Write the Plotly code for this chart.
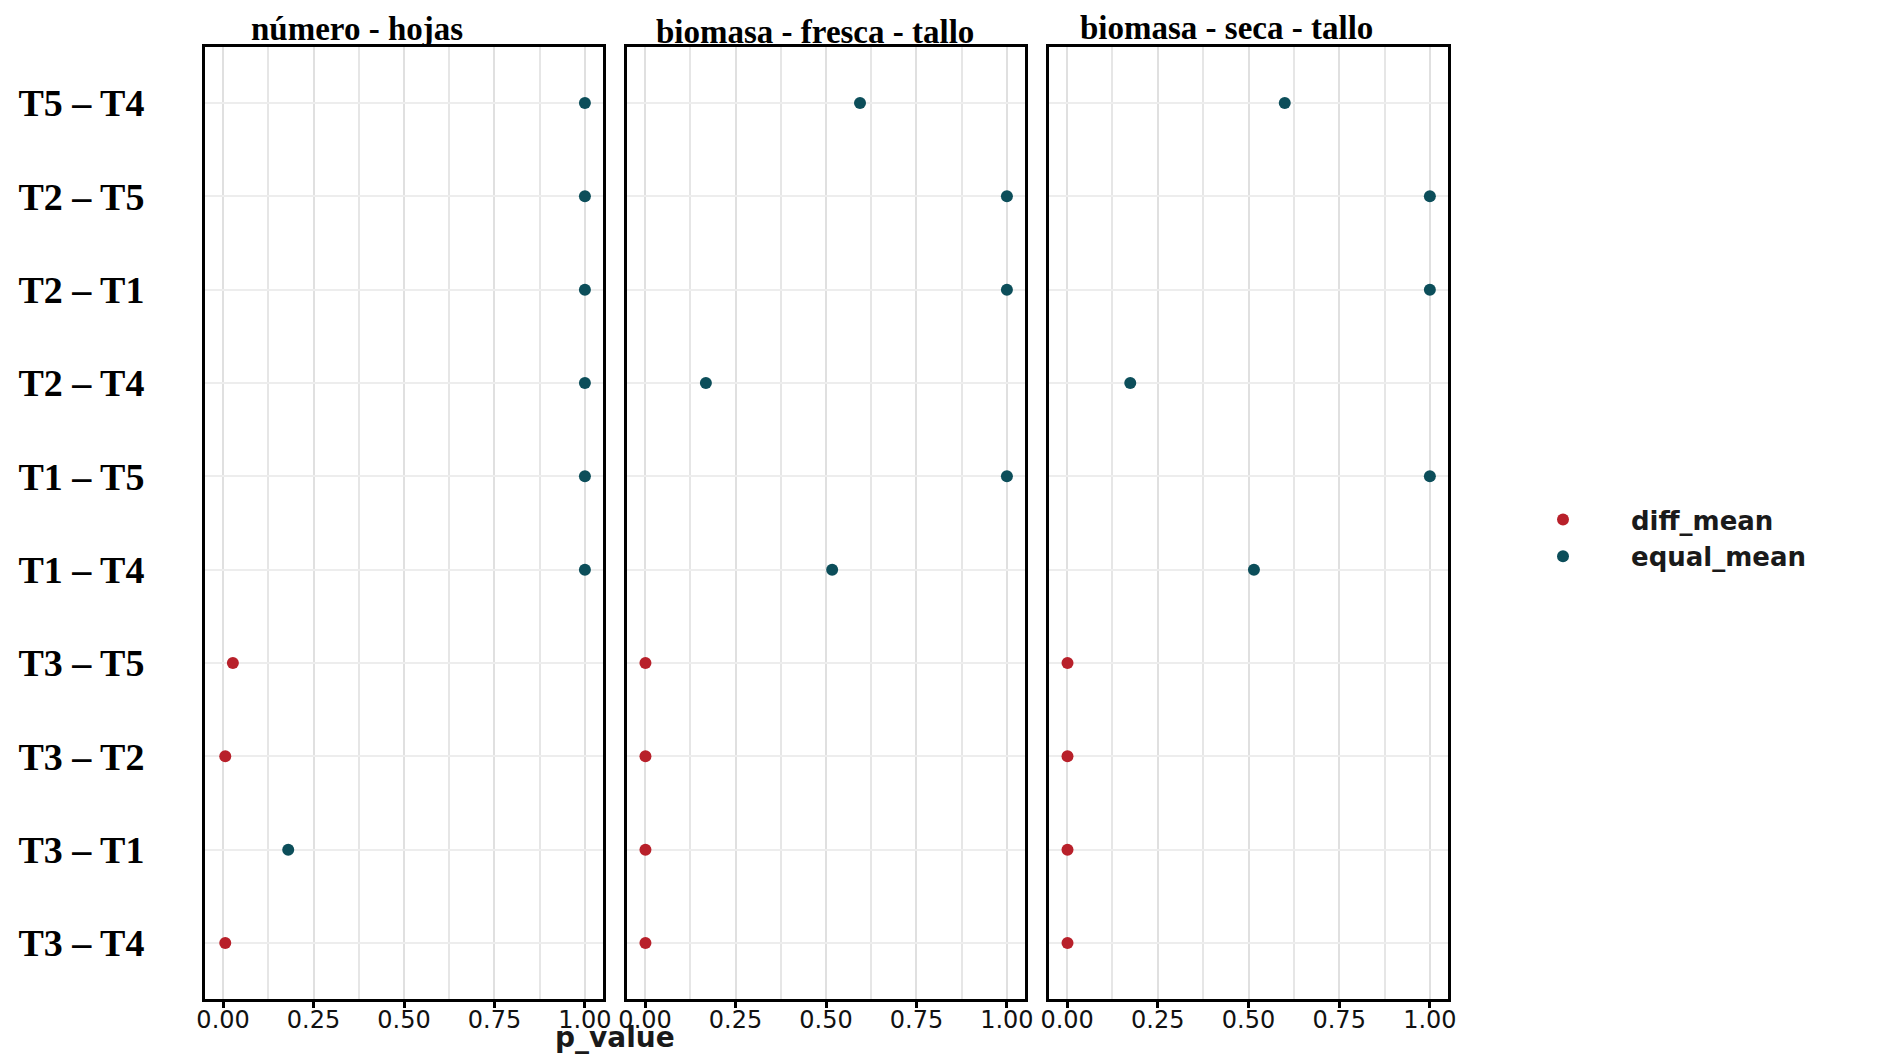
import plotly.graph_objects as go

# comparisons, top to bottom
comparisons = ["T5 – T4", "T2 – T5", "T2 – T1", "T2 – T4", "T1 – T5",
               "T1 – T4", "T3 – T5", "T3 – T2", "T3 – T1", "T3 – T4"]

panels = ["número - hojas", "biomasa - fresca - tallo", "biomasa - seca - tallo"]

p_hojas = [1.0, 1.0, 1.0, 1.0, 1.0, 1.0, 0.027, 0.006, 0.18, 0.006]
p_fresca = [0.594, 1.0, 1.0, 0.168, 1.0, 0.517, 0.001, 0.001, 0.001, 0.001]
p_seca = [0.600, 1.0, 1.0, 0.174, 1.0, 0.515, 0.001, 0.001, 0.001, 0.001]

group_hojas = ["equal_mean"] * 6 + ["diff_mean", "diff_mean", "equal_mean", "diff_mean"]
group_fresca = ["equal_mean"] * 6 + ["diff_mean"] * 4
group_seca = ["equal_mean"] * 6 + ["diff_mean"] * 4

tick_vals = [0, 0.25, 0.5, 0.75, 1.0]
tick_text = ["0.00", "0.25", "0.50", "0.75", "1.00"]

colors = {"diff_mean": "#B8202A", "equal_mean": "#0C4E5A"}

W, H = 1899, 1057
OFF = 7  # page body margin shifts the plot by about this much
# panel pixel extents (left, right) as seen on the page
px_dom = [(204, 602), (626, 1024), (1048, 1447)]
top_px, bot_px = 46, 998


def px(v):
    return (v - OFF) / W


def py(v):
    return 1 - (v - OFF) / H


fig = go.Figure()

series = [(p_hojas, group_hojas), (p_fresca, group_fresca), (p_seca, group_seca)]
shown = set()
for i, (vals, groups) in enumerate(series):
    ax = "" if i == 0 else str(i + 1)
    for g in ["diff_mean", "equal_mean"]:
        xs = [v for v, gg in zip(vals, groups) if gg == g]
        ys = [c for c, gg in zip(comparisons, groups) if gg == g]
        fig.add_trace(go.Scatter(
            x=xs, y=ys, mode="markers", name=g,
            marker=dict(color=colors[g], size=12, symbol="circle"),
            xaxis="x" + ax, yaxis="y" + ax,
            showlegend=g not in shown, legendgroup=g,
        ))
        shown.add(g)

tick_font = dict(family="DejaVu Sans", size=24, color="#111111")
serif_font = dict(family="Liberation Serif", size=38, color="black", weight="bold")

layout = dict(
    width=W, height=H,
    margin=dict(l=0, r=0, t=0, b=0, autoexpand=False),
    plot_bgcolor="white", paper_bgcolor="white",
    showlegend=True,
    legend=dict(x=px(1494), y=py(537), xanchor="left", yanchor="middle",
                font=dict(family="DejaVu Sans", size=26, color="#1a1a1a", weight="bold"),
                itemwidth=126, tracegroupgap=0, bgcolor="rgba(0,0,0,0)"),
)

ydom = [py(bot_px), py(top_px)]
for i, (l, r) in enumerate(px_dom):
    key = "" if i == 0 else str(i + 1)
    layout["xaxis" + key] = dict(
        domain=[px(l), px(r)], range=[-0.05, 1.05],
        tickvals=tick_vals, ticktext=tick_text, tickfont=tick_font,
        ticks="outside", ticklen=6, tickwidth=3, tickcolor="black",
        ticklabelstandoff=-9,
        showgrid=True, gridcolor="#E0E0E0", gridwidth=2,
        minor=dict(tickvals=[0.125, 0.375, 0.625, 0.875], showgrid=True,
                   gridcolor="#E6E6E6", gridwidth=2, ticks=""),
        showline=True, mirror=True, linecolor="black", linewidth=3,
        zeroline=False, anchor="y" + key, automargin=False,
    )
    layout["yaxis" + key] = dict(
        domain=ydom, type="category",
        categoryorder="array", categoryarray=comparisons[::-1],
        range=[-0.6, 9.6],
        showticklabels=(i == 0), tickfont=serif_font, ticks="",
        ticklabelstandoff=50,
        showgrid=True, gridcolor="#EDEDED", gridwidth=2,
        showline=True, mirror=True, linecolor="black", linewidth=3,
        zeroline=False, anchor="x" + key, automargin=False,
    )

fig.update_layout(**layout)

# facet titles (slightly staggered like the original)
title_x = [294 * 1.211, 672 * 1.211, 1012 * 1.211]
title_top = [1, 4, 0]
for name, tx, tt in zip(panels, title_x, title_top):
    fig.add_annotation(text=name, x=px(tx), y=1 - tt / H, xref="paper", yref="paper",
                       xanchor="center", yanchor="top", showarrow=False,
                       font=dict(family="Liberation Serif", size=33,
                                 color="black", weight="bold"))

fig.add_annotation(text="p_value", x=px(614), y=py(1036), xref="paper", yref="paper",
                   xanchor="center", yanchor="middle", showarrow=False,
                   font=dict(family="DejaVu Sans", size=28, color="#1a1a1a", weight="bold"))

fig.write_html("out.html")
